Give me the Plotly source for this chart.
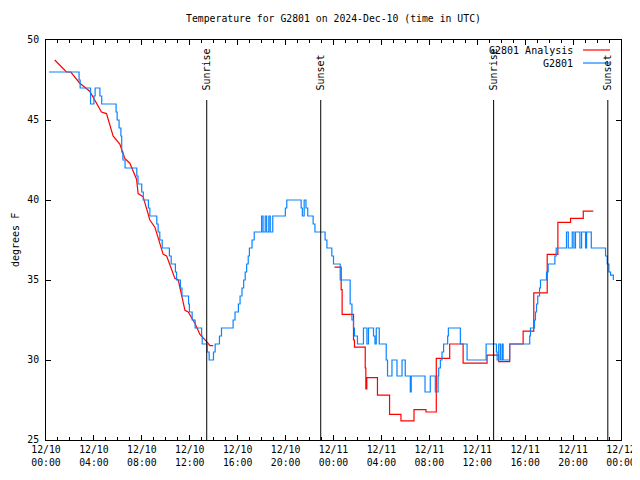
import pandas as pd
import plotly.graph_objects as go

BASE = pd.Timestamp("2024-12-10 00:00")

# ---- data (hours after 2024-12-10 00:00 UTC, temperature in F) ----
blue_hours = [0.25, 2.76, 2.85, 3.72, 4.0, 4.1, 4.5, 4.65, 5.85, 5.94, 6.1, 6.25, 6.32, 6.42, 6.6,
              7.58, 7.68, 7.99, 8.12, 8.55, 8.67, 9.25, 9.36, 9.5, 9.7, 10.3, 10.45, 10.8, 10.9,
              11.22, 11.35, 11.9, 11.97, 12.2, 12.45, 12.99, 13.04, 13.45, 13.62, 13.98, 14.12,
              14.48, 14.65, 15.62, 15.78, 16.06, 16.2, 16.36, 16.5, 16.63, 16.75, 16.88, 16.98,
              17.2, 17.38, 18.0, 18.12, 18.3, 18.42, 18.6, 18.72, 18.93, 19.98, 20.1,
              21.3, 21.4, 21.55, 21.7, 21.85, 22.3, 22.45, 23.3, 23.45, 23.66, 23.86, 24.0, 24.56,
              25.39, 25.54, 25.67, 25.75, 26.0, 26.15, 26.5, 26.79, 26.92, 27.34, 27.46, 27.57,
              27.82, 28.4, 28.51, 28.88, 29.3, 29.72, 29.99, 30.41, 30.49, 31.64, 32.08, 32.5,
              32.73, 32.78, 32.92, 33.06, 33.19, 33.53, 33.59, 34.59, 35.15, 36.74, 37.6, 37.66,
              37.79, 37.93, 38.07, 38.16, 38.71, 40.38, 40.44, 40.78, 40.86, 40.95, 41.05, 41.2,
              41.28, 41.78, 41.92, 42.48, 42.59, 43.45, 43.6, 43.93, 44.07, 44.2, 44.57, 44.71,
              45.04, 45.13, 45.35, 45.52, 46.71, 46.85, 46.99, 47.13, 47.36]
blue_temps = [48, 47.5, 47, 46, 46.5, 47, 46.5, 46, 45.5, 45, 44.5, 44, 43, 42.5, 42,
              41.5, 41, 40.5, 40, 39.5, 39, 38.5, 38, 37.5, 37, 36.5, 36, 35.5, 35,
              34.5, 34, 33.5, 33, 32.5, 32, 31.5, 31, 30.5, 30, 30.5, 31,
              31.5, 32, 32.5, 33, 33.5, 34, 34.5, 35, 35.5, 36, 36.5, 37,
              37.5, 38, 39, 38, 39, 38, 39, 38, 39, 39.5, 40,
              39.5, 39, 40, 39.5, 39, 38.5, 38, 37.5, 37, 37, 36.5, 36, 35,
              33.5, 32.5, 32, 31.5, 31, 31, 32, 31, 32, 31.5, 31, 32,
              31, 30, 29, 30, 29, 30, 29, 28, 29, 28, 29, 28,
              29, 29.5, 30, 30.5, 31, 31.5, 32, 31, 30, 31, 30.5, 30,
              31, 30, 31, 30, 31, 31.5, 32, 32.5, 33, 33.5, 34, 34.5,
              35, 35.5, 36, 36.5, 37, 38, 37, 38, 37, 38, 37, 38,
              37, 38, 38, 37, 36.5, 36, 35.5, 35.3, 35]

red1_hours = [0.73, 1.71, 2.07, 2.82, 3.65, 4.63, 5.05, 5.6, 6.16, 6.58, 7.0, 7.56, 7.69,
              8.11, 8.67, 9.09, 9.78, 10.07, 10.76, 11.04, 11.6, 11.87, 12.43, 12.85, 13.41,
              13.69, 13.96]
red1_temps = [48.75, 48.0, 48.0, 47.3, 46.8, 45.5, 45.4, 44.0, 43.5, 42.6, 42.3, 41.3, 40.4,
              40.2, 38.75, 38.3, 36.6, 36.5, 35.1, 35.0, 33.1, 33.0, 32.3, 31.6, 31.15,
              30.9, 30.9]

red2_hours = [24.08, 24.64, 24.72, 25.67, 25.75, 26.65, 26.7, 26.78, 27.67, 28.68, 29.63,
              30.72, 31.72, 32.58, 33.7, 34.82, 36.82, 37.79, 38.71, 39.83, 40.72, 41.84,
              42.73, 43.79, 44.85, 45.69]
red2_temps = [35.8, 34.4, 32.85, 31.25, 30.8, 29.5, 28.2, 28.9, 27.8, 26.6, 26.2,
              26.9, 26.75, 30.1, 31.0, 29.8, 30.3, 29.9, 31.0, 31.8, 34.2, 36.6,
              38.6, 38.85, 39.3, 39.3]

event_names = ["Sunrise", "Sunset", "Sunrise", "Sunset"]
event_times = ["2024-12-10 13:25", "2024-12-10 22:56", "2024-12-11 13:22", "2024-12-11 22:54"]

RED = "#ff0000"
BLUE = "#0a84ff"
FONT = "DejaVu Sans Mono"

# The page body has an 8px default margin, so the figure is drawn 8px in from
# the window's top-left corner; size and margins are chosen for that.
OFF = 8
W, H = 640 - OFF, 480 - OFF
L, R, T, B = 46, 621, 40, 440          # plot area in window pixels


def to_time(hours):
    return [BASE + pd.Timedelta(hours=h) for h in hours]


def px(xp):
    return (xp - L) / (R - L)


def py(yp):
    return (B - yp) / (B - T)


fig = go.Figure()
fig.add_trace(go.Scatter(x=to_time(red1_hours), y=red1_temps, mode="lines",
                         line=dict(color=RED, width=1.2), name="G2801 Analysis"))
fig.add_trace(go.Scatter(x=to_time(red2_hours), y=red2_temps, mode="lines",
                         line=dict(color=RED, width=1.2, shape="hv"), name="G2801 Analysis"))
fig.add_trace(go.Scatter(x=to_time(blue_hours), y=blue_temps, mode="lines",
                         line=dict(color=BLUE, width=1.2, shape="hv"), name="G2801"))

# sunrise / sunset markers
for name, t in zip(event_names, event_times):
    fig.add_shape(type="line", xref="x", yref="y", x0=t, x1=t, y0=25, y1=46.25,
                  line=dict(color="black", width=1))
    fig.add_annotation(x=t, y=46.7, xref="x", yref="y", text=name, textangle=-90,
                       showarrow=False, xanchor="center", yanchor="bottom",
                       font=dict(family=FONT, size=10, color="black"))

# manual gnuplot-style key (text left of sample line)
for label, color, ypix in [("G2801 Analysis", RED, 50), ("G2801", BLUE, 63)]:
    fig.add_annotation(xref="paper", yref="paper", x=px(575), y=py(ypix), text=label,
                       showarrow=False, xanchor="right", yanchor="middle",
                       font=dict(family=FONT, size=10, color="black"))
    fig.add_shape(type="line", xref="paper", yref="paper", x0=px(583), x1=px(610),
                  y0=py(ypix), y1=py(ypix), line=dict(color=color, width=1.2))

# y axis title
fig.add_annotation(xref="paper", yref="paper", x=px(15), y=0.5, text="degrees F",
                   textangle=-90, showarrow=False, xanchor="center", yanchor="middle",
                   font=dict(family=FONT, size=10, color="black"))

fig.update_layout(
    width=W, height=H,
    margin=dict(l=L - OFF, r=W - (R - OFF), t=T - OFF, b=H - (B - OFF), autoexpand=False),
    paper_bgcolor="white", plot_bgcolor="white",
    showlegend=False,
    title=dict(text="Temperature for G2801 on 2024-Dec-10 (time in UTC)",
               x=0.5, xref="paper", xanchor="center", y=1 - (19 - OFF) / H, yanchor="middle",
               font=dict(family=FONT, size=9.8, color="black")),
    font=dict(family=FONT, size=9.8, color="black"),
)
fig.update_xaxes(
    type="date", range=["2024-12-10 00:00", "2024-12-12 00:00"], automargin=False,
    tick0="2024-12-10 00:00", dtick=4 * 3600 * 1000, tickformat="%m/%d<br>%H:%M",
    ticks="inside", ticklen=5, tickcolor="black", showline=True, linecolor="black",
    linewidth=1, mirror="ticks", showgrid=False, zeroline=False,
    minor=dict(dtick=3600 * 1000, ticks="inside", ticklen=3, tickcolor="black", showgrid=False),
    tickfont=dict(family=FONT, size=9.8),
)
fig.update_yaxes(
    range=[25, 50], dtick=5, ticks="inside", ticklen=5, tickcolor="black", automargin=False,
    showline=True, linecolor="black", linewidth=1, mirror="ticks", showgrid=False,
    zeroline=False, tickfont=dict(family=FONT, size=9.8), ticklabelstandoff=4,
)

fig.write_html("out.html")
